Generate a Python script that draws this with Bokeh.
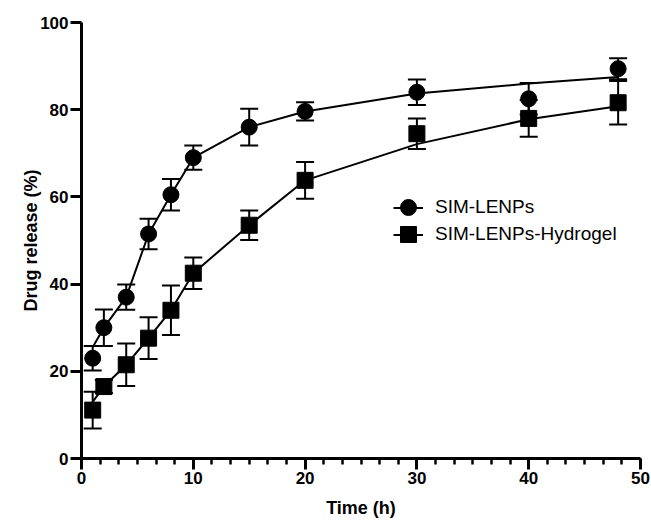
from bokeh.plotting import figure
from bokeh.models import (ColumnDataSource, Whisker, TeeHead, Range1d, Legend,
                          LegendItem, SingleIntervalTicker)
from bokeh.embed import file_html
from bokeh.resources import INLINE

# Sampling times (h)
time_h = [1, 2, 4, 6, 8, 10, 15, 20, 30, 40, 48]

# SIM-LENPs: mean cumulative release (%), SD, and the connecting curve
lenp_mean = [23.0, 30.0, 37.0, 51.5, 60.5, 69.0, 76.0, 79.6, 84.0, 82.5, 89.4]
lenp_sd = [2.8, 4.2, 2.9, 3.5, 3.6, 2.8, 4.2, 2.1, 2.9, 3.6, 2.4]
lenp_curve = [25.5, 30.0, 37.0, 51.5, 60.5, 69.0, 76.0, 79.6, 83.7, 86.0, 87.5]

# SIM-LENPs-Hydrogel
gel_mean = [11.1, 16.5, 21.5, 27.6, 34.0, 42.5, 53.5, 63.8, 74.5, 78.0, 81.6]
gel_sd = [4.2, 1.5, 4.9, 4.8, 5.7, 3.6, 3.4, 4.2, 3.5, 4.2, 5.0]
gel_curve = [13.0, 16.5, 21.5, 27.6, 34.0, 42.5, 53.5, 63.8, 72.1, 77.8, 80.8]

series_labels = ["SIM-LENPs", "SIM-LENPs-Hydrogel"]

FONT = "Liberation Sans"

p = figure(width=651, height=520, output_backend="svg", toolbar_location=None,
           x_range=Range1d(0, 50), y_range=Range1d(0, 100),
           min_border_left=81, min_border_right=11,
           min_border_top=22, min_border_bottom=61)
p.outline_line_color = None
p.grid.visible = False
p.background_fill_color = "white"
p.border_fill_color = "white"

p.xaxis.ticker = SingleIntervalTicker(interval=10, num_minor_ticks=6)
p.yaxis.ticker = SingleIntervalTicker(interval=20, num_minor_ticks=0)

for ax in (p.xaxis[0], p.yaxis[0]):
    ax.axis_line_width = 3
    ax.axis_line_color = "black"
    ax.major_tick_line_width = 3
    ax.major_tick_line_color = "black"
    ax.major_tick_out = 11
    ax.major_tick_in = 0
    ax.minor_tick_line_width = 2.5
    ax.minor_tick_line_color = "black"
    ax.minor_tick_out = 6
    ax.minor_tick_in = 0
    ax.major_label_text_font = FONT
    ax.major_label_text_font_style = "bold"
    ax.major_label_text_font_size = "17px"
    ax.major_label_text_color = "black"
    ax.major_label_standoff = 2
    ax.axis_label_text_font = FONT
    ax.axis_label_text_font_style = "bold"
    ax.axis_label_text_font_size = "18px"
    ax.axis_label_text_color = "black"

p.yaxis.minor_tick_line_color = None
p.xaxis.axis_label = "Time (h)"
p.yaxis.axis_label = "Drug release (%)"
p.xaxis.axis_label_standoff = 11
p.yaxis.axis_label_standoff = -4

def add_series(mean, sd, curve, marker):
    src = ColumnDataSource(dict(
        x=time_h, y=mean, curve=curve,
        lower=[m - s for m, s in zip(mean, sd)],
        upper=[m + s for m, s in zip(mean, sd)],
    ))
    w = Whisker(base="x", lower="lower", upper="upper", source=src,
                line_width=2, line_color="black",
                upper_head=TeeHead(size=18, line_width=2, line_color="black"),
                lower_head=TeeHead(size=18, line_width=2, line_color="black"))
    p.add_layout(w)
    ln = p.line("x", "curve", source=src, line_width=2, line_color="black")
    sc = p.scatter("x", "y", source=src, marker=marker, size=16,
                   fill_color="black", line_color="black")
    return ln, sc

l1, s1 = add_series(lenp_mean, lenp_sd, lenp_curve, "circle")
l2, s2 = add_series(gel_mean, gel_sd, gel_curve, "square")

legend_style = dict(orientation="vertical", padding=0, margin=0,
                    border_line_color=None, background_fill_alpha=0,
                    label_text_font=FONT, label_text_font_size="19px",
                    label_text_color="black")

# Legend line samples (short strokes through each marker)
legend_lines = Legend(items=[LegendItem(label=" ", renderers=[l1]),
                             LegendItem(label=" ", renderers=[l2])],
                      location=(312, 210), glyph_width=30, glyph_height=27,
                      label_height=27, label_standoff=0, spacing=0,
                      **legend_style)
p.add_layout(legend_lines)

# Legend markers with series names, one row per legend box
for label, rend, loc in ((series_labels[0], s1, (307, 231)),
                         (series_labels[1], s2, (307, 204))):
    p.add_layout(Legend(items=[LegendItem(label=label, renderers=[rend])],
                        location=loc, glyph_width=40, glyph_height=40,
                        label_height=40, label_standoff=7, spacing=0,
                        **legend_style))

open("out.html", "w").write(file_html(p, INLINE))
